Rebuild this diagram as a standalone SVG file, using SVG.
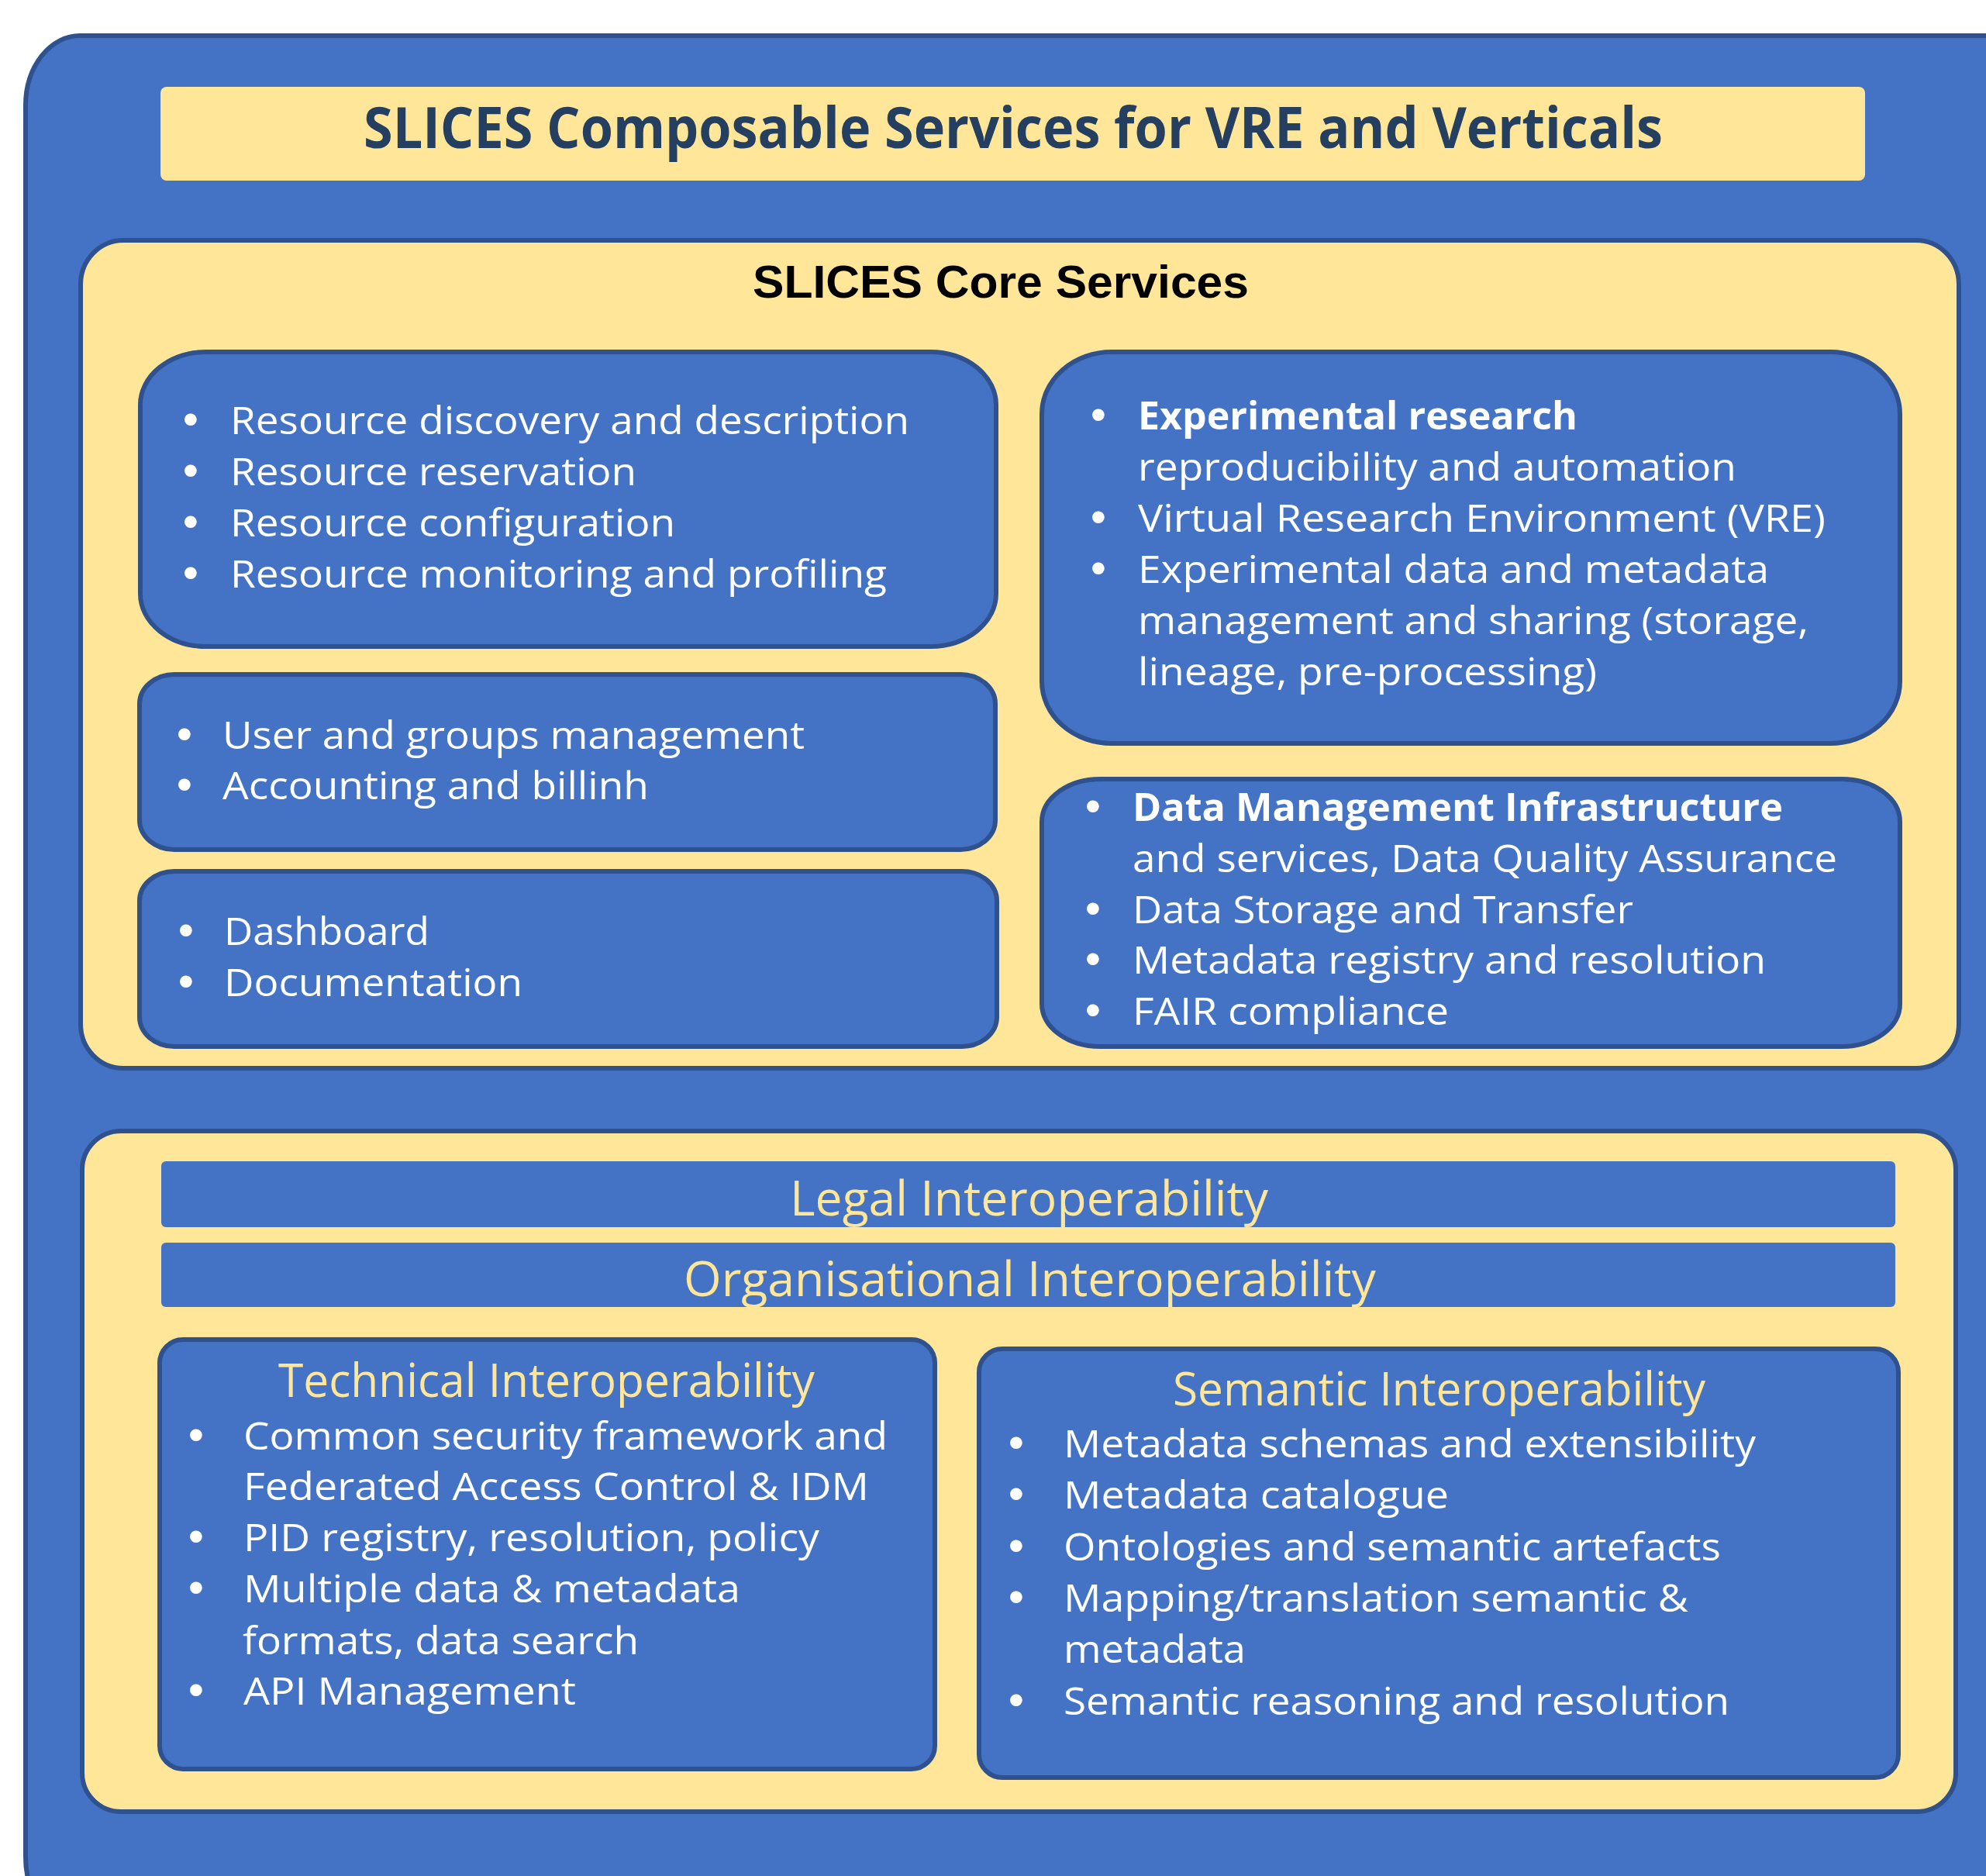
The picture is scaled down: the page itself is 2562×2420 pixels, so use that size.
<svg xmlns="http://www.w3.org/2000/svg" width="2562" height="2420" viewBox="0 0 2562 2420">
<style>
.blue{fill:#4472C4;stroke:#2F528F;stroke-width:6}
.yel{fill:#FFE699;stroke:#2F528F;stroke-width:6}
.bar{fill:#4472C4}
.t{font-family:"Open Sans","Liberation Sans",sans-serif;font-size:50px;fill:#FFFFFF}
.b{font-weight:bold}
.bl{font-family:"Liberation Sans",Arial,sans-serif;font-size:58px;fill:#FFFFFF;text-anchor:middle}
.it{font-family:"Open Sans","Liberation Sans",sans-serif;fill:#FFE699}
</style>
<rect width="2562" height="2420" fill="#FFFFFF"/>
<g id="outer">
<rect class="blue" x="33" y="46" width="2600" height="2440" rx="70" ry="90"/>
</g>
<g id="title">
<rect x="207" y="112" width="2199" height="121" rx="8" fill="#FFE699"/>
<text x="469" y="191" font-family="'Open Sans','Liberation Sans',sans-serif" font-weight="bold" font-size="74" fill="#243F60" textLength="1676" lengthAdjust="spacingAndGlyphs">SLICES Composable Services for VRE and Verticals</text>
</g>
<g id="core-services">
<rect class="yel" x="104" y="310" width="2423" height="1068" rx="55" ry="57"/>
<text x="971" y="384" font-family="'Liberation Sans',Arial,sans-serif" font-weight="bold" font-size="60" fill="#000000" textLength="640" lengthAdjust="spacingAndGlyphs">SLICES Core Services</text>
</g>
<g id="resource-box">
<rect class="blue" x="181" y="454" width="1104" height="380" rx="85" ry="68"/>
<text class="bl" x="246" y="560">•</text><text class="t" x="297" y="560" textLength="876" lengthAdjust="spacingAndGlyphs">Resource discovery and description</text>
<text class="bl" x="246" y="626">•</text><text class="t" x="297" y="626" textLength="524" lengthAdjust="spacingAndGlyphs">Resource reservation</text>
<text class="bl" x="246" y="692">•</text><text class="t" x="297" y="692" textLength="574" lengthAdjust="spacingAndGlyphs">Resource configuration</text>
<text class="bl" x="246" y="758">•</text><text class="t" x="297" y="758" textLength="847" lengthAdjust="spacingAndGlyphs">Resource monitoring and profiling</text>
</g>
<g id="user-box">
<rect class="blue" x="180" y="870" width="1104" height="226" rx="45" ry="38"/>
<text class="bl" x="238" y="966">•</text><text class="t" x="287" y="966" textLength="751" lengthAdjust="spacingAndGlyphs">User and groups management</text>
<text class="bl" x="238" y="1031">•</text><text class="t" x="287" y="1031" textLength="550" lengthAdjust="spacingAndGlyphs">Accounting and billinh</text>
</g>
<g id="dashboard-box">
<rect class="blue" x="180" y="1124" width="1106" height="226" rx="45" ry="38"/>
<text class="bl" x="240" y="1219">•</text><text class="t" x="289" y="1219" textLength="265" lengthAdjust="spacingAndGlyphs">Dashboard</text>
<text class="bl" x="240" y="1285">•</text><text class="t" x="289" y="1285" textLength="385" lengthAdjust="spacingAndGlyphs">Documentation</text>
</g>
<g id="experimental-box">
<rect class="blue" x="1344" y="454" width="1107" height="505" rx="90" ry="80"/>
<text class="bl" x="1417" y="554">•</text><text class="t b" x="1468" y="554" textLength="567" lengthAdjust="spacingAndGlyphs">Experimental research</text>
<text class="t" x="1468" y="620" textLength="772" lengthAdjust="spacingAndGlyphs">reproducibility and automation</text>
<text class="bl" x="1417" y="686">•</text><text class="t" x="1468" y="686" textLength="887" lengthAdjust="spacingAndGlyphs">Virtual Research Environment (VRE)</text>
<text class="bl" x="1417" y="752">•</text><text class="t" x="1468" y="752" textLength="814" lengthAdjust="spacingAndGlyphs">Experimental data and metadata</text>
<text class="t" x="1468" y="818" textLength="865" lengthAdjust="spacingAndGlyphs">management and sharing (storage,</text>
<text class="t" x="1468" y="884" textLength="592" lengthAdjust="spacingAndGlyphs">lineage, pre-processing)</text>
</g>
<g id="data-box">
<rect class="blue" x="1344" y="1005" width="1107" height="345" rx="75" ry="55"/>
<text class="bl" x="1410" y="1059">•</text><text class="t b" x="1461" y="1059" textLength="839" lengthAdjust="spacingAndGlyphs">Data Management Infrastructure</text>
<text class="t" x="1461" y="1125" textLength="909" lengthAdjust="spacingAndGlyphs">and services, Data Quality Assurance</text>
<text class="bl" x="1410" y="1191">•</text><text class="t" x="1461" y="1191" textLength="646" lengthAdjust="spacingAndGlyphs">Data Storage and Transfer</text>
<text class="bl" x="1410" y="1256">•</text><text class="t" x="1461" y="1256" textLength="817" lengthAdjust="spacingAndGlyphs">Metadata registry and resolution</text>
<text class="bl" x="1410" y="1322">•</text><text class="t" x="1461" y="1322" textLength="408" lengthAdjust="spacingAndGlyphs">FAIR compliance</text>
</g>
<g id="interoperability">
<rect class="yel" x="106" y="1459" width="2417" height="878" rx="50" ry="50"/>
</g>
<g id="legal">
<rect class="bar" x="208" y="1498" width="2237" height="85" rx="6"/>
<text class="it" x="1019" y="1568" font-size="62" textLength="617" lengthAdjust="spacingAndGlyphs">Legal Interoperability</text>
</g>
<g id="organisational">
<rect class="bar" x="208" y="1603" width="2237" height="83" rx="6"/>
<text class="it" x="882" y="1672" font-size="62" textLength="893" lengthAdjust="spacingAndGlyphs">Organisational Interoperability</text>
</g>
<g id="technical">
<rect class="blue" x="206" y="1728" width="1000" height="554" rx="30" ry="30"/>
<text class="it" x="359" y="1802" font-size="60" textLength="692" lengthAdjust="spacingAndGlyphs">Technical Interoperability</text>
<text class="bl" x="253" y="1870">•</text><text class="t" x="314" y="1870" textLength="831" lengthAdjust="spacingAndGlyphs">Common security framework and</text>
<text class="t" x="314" y="1935" textLength="807" lengthAdjust="spacingAndGlyphs">Federated Access Control &amp; IDM</text>
<text class="bl" x="253" y="2001">•</text><text class="t" x="314" y="2001" textLength="743" lengthAdjust="spacingAndGlyphs">PID registry, resolution, policy</text>
<text class="bl" x="253" y="2067">•</text><text class="t" x="314" y="2067" textLength="641" lengthAdjust="spacingAndGlyphs">Multiple data &amp; metadata</text>
<text class="t" x="313" y="2134" textLength="511" lengthAdjust="spacingAndGlyphs">formats, data search</text>
<text class="bl" x="253" y="2199">•</text><text class="t" x="314" y="2199" textLength="429" lengthAdjust="spacingAndGlyphs">API Management</text>
</g>
<g id="semantic">
<rect class="blue" x="1263" y="1740" width="1186" height="553" rx="30" ry="30"/>
<text class="it" x="1513" y="1813" font-size="60" textLength="687" lengthAdjust="spacingAndGlyphs">Semantic Interoperability</text>
<text class="bl" x="1311" y="1880">•</text><text class="t" x="1372" y="1880" textLength="893" lengthAdjust="spacingAndGlyphs">Metadata schemas and extensibility</text>
<text class="bl" x="1311" y="1946">•</text><text class="t" x="1372" y="1946" textLength="497" lengthAdjust="spacingAndGlyphs">Metadata catalogue</text>
<text class="bl" x="1311" y="2013">•</text><text class="t" x="1372" y="2013" textLength="848" lengthAdjust="spacingAndGlyphs">Ontologies and semantic artefacts</text>
<text class="bl" x="1311" y="2079">•</text><text class="t" x="1372" y="2079" textLength="806" lengthAdjust="spacingAndGlyphs">Mapping/translation semantic &amp;</text>
<text class="t" x="1372" y="2145" textLength="235" lengthAdjust="spacingAndGlyphs">metadata</text>
<text class="bl" x="1311" y="2212">•</text><text class="t" x="1372" y="2212" textLength="859" lengthAdjust="spacingAndGlyphs">Semantic reasoning and resolution</text>
</g>
<g id="connectors"/>
</svg>
